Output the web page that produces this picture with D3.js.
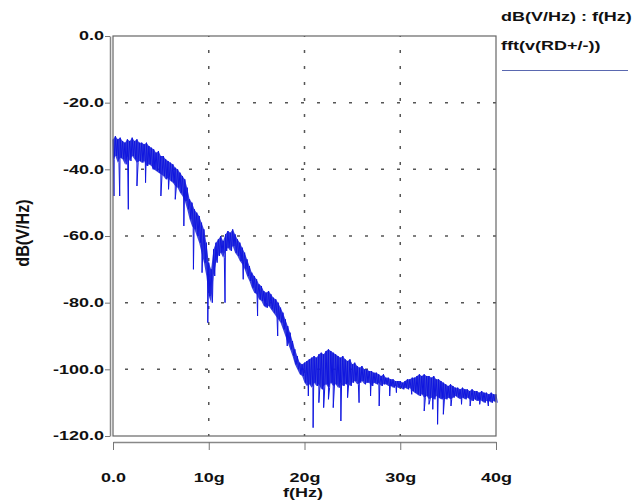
<!DOCTYPE html>
<html>
<head>
<meta charset="utf-8">
<script src="https://cdn.jsdelivr.net/npm/d3@7"></script>
<style>
  body { margin: 0; background: #fff; }
  text { font-family: "Liberation Sans", Arial, sans-serif; font-weight: bold; fill: #111; }
</style>
</head>
<body>
<script>
// spectrum, one bin every 0.25 GHz (0 .. 40g)
var binStep = 0.25;

// top of the noise band in each bin (dB)
var bandTop = [
  -31, -30, -31, -30.5, -31.5, -32, -31, -31.5, -30.5, -31.5, -31, -32,
  -32, -32.5, -32, -33, -33.5, -34, -35, -34.5, -36, -36, -37, -37.5,
  -38, -38.5, -39.5, -40, -41, -42, -43, -45.5,
  -49, -50, -52, -53, -54, -56, -58, -62, -68, -70, -64, -62,
  -61, -60, -61.5, -59.5, -58.5, -59, -58, -59.5, -61, -62, -63.5, -65,
  -67, -69, -71, -72, -73, -74.5, -75, -76.5, -77, -76.5, -77.5, -78.5,
  -79, -80, -81.5, -83, -85, -87, -89, -91.5, -94, -96, -98, -98.5,
  -98, -97.5, -97, -96.5, -96, -96.5, -95.5, -95, -95.5, -94.5, -94, -94.5,
  -95, -95.5, -96, -96.5, -96, -97, -97.5, -97, -98.5, -98, -99, -99.5,
  -99, -100, -100, -100.5, -100.5, -101, -101, -101.5, -102, -101.5, -102.5, -102.5,
  -103, -103, -103.5, -103.5,
  -103.5, -104, -103.5, -103, -103, -102.5, -102.5, -102, -101.5, -102, -101.5, -102,
  -102, -102.5, -102, -103, -103, -103.5, -104, -104.5, -105, -104.5, -105, -105.5,
  -105.5, -106, -105.5, -106, -106, -106.5, -106, -106.5, -106.5, -107, -106.5, -107,
  -107, -107.5, -107, -107.5, -107.5
];

// bottom of the noise band in each bin (dB)
var bandBottom = [
  -37, -36, -38, -36.5, -37, -38.5, -36, -37.5, -36, -37, -38, -37.5,
  -38, -37.5, -39, -38.5, -39, -40, -40.5, -41, -41.5, -42, -43, -42.5,
  -43.5, -44, -45, -45.5, -47, -48, -49.5, -52,
  -55, -57, -58, -60, -62, -65, -68, -72, -78, -80, -72, -68,
  -66, -65, -66.5, -64.5, -63.5, -64.5, -63, -65, -66, -67.5, -68.5, -70,
  -72, -73.5, -75.5, -77, -77.5, -79, -79.5, -81, -81.5, -81, -82, -83,
  -84, -85, -86, -88, -90, -92, -94, -96, -98.5, -100, -101.5, -102,
  -104, -105, -104.5, -105.5, -104, -105, -104.5, -106, -105, -104.5, -105.5, -104,
  -105, -104.5, -105.5, -104, -105, -104.5, -104, -105, -104, -103.5, -104.5, -104,
  -103.5, -104.5, -104, -104, -105, -104, -104.5, -104, -105, -104.5, -104.5, -105,
  -105, -105.5, -105, -105.5,
  -105.5, -106, -105.5, -106, -105.5, -106.5, -107, -107.5, -108, -107.5, -108.5, -108,
  -109, -108.5, -109, -108, -108.5, -109, -108.5, -109, -108.5, -109, -108.5, -108,
  -108.5, -109, -108.5, -109, -108.5, -109, -109.5, -109, -109.5, -109, -109.5, -110,
  -109.5, -109.5, -110, -109.5, -110
];

// deep notches (GHz, dB)
var notchFreq = [0.1, 0.7, 1.6, 2.5, 3.4, 4.2, 5.0, 5.8, 6.5, 7.4,
                 8.4, 9.3, 9.9, 10.4, 11.7, 13.6, 15.1, 16.0, 17.2, 18.2,
                 19.0, 20.4, 20.9, 21.5, 22.0, 22.5, 23.0, 23.8, 24.5, 25.7,
                 26.9, 27.8, 28.9, 29.6, 31.2, 32.5, 33.0, 33.4, 33.9, 34.5,
                 35.3, 36.4, 37.3, 38.3, 39.2];
var notchDb = [-48, -48, -52, -45, -44, -40, -48, -46, -49, -57,
               -70, -71, -86, -78, -80, -73, -84, -80, -90, -93,
               -97, -108, -117.5, -110, -111.5, -109, -111.5, -115.5, -108.5, -110,
               -108, -111, -108, -107, -107.5, -112.5, -110.5, -112, -116.5, -113.5,
               -111, -110.5, -111, -110.5, -111];

var xTicks = [0, 10, 20, 30, 40];
var xTickLabels = ["0.0", "10g", "20g", "30g", "40g"];
var yTicks = [0, -20, -40, -60, -80, -100, -120];

var width = 634, height = 501;
var plot = {left: 113, right: 496, top: 36, bottom: 436};
var stretch = 1.5; // the original lettering is drawn wide

var svg = d3.select("body").append("svg")
    .attr("width", width)
    .attr("height", height);

var x = d3.scaleLinear().domain([0, 40]).range([plot.left, plot.right]);
var y = d3.scaleLinear().domain([0, -120]).range([plot.top, plot.bottom]);

// grid
svg.append("g")
    .selectAll("line")
    .data(yTicks.slice(1, -1))
    .join("line")
    .attr("x1", plot.left).attr("x2", plot.right)
    .attr("y1", d => y(d)).attr("y2", d => y(d))
    .attr("stroke", "#555").attr("stroke-width", 1.5)
    .attr("stroke-dasharray", "3,13").attr("stroke-dashoffset", -12);

svg.append("g")
    .selectAll("line")
    .data(xTicks.slice(1, -1))
    .join("line")
    .attr("x1", d => x(d)).attr("x2", d => x(d))
    .attr("y1", plot.top).attr("y2", plot.bottom)
    .attr("stroke", "#555").attr("stroke-width", 1.5)
    .attr("stroke-dasharray", "3,13").attr("stroke-dashoffset", -14);

// the dense part of the noise band
var bins = bandTop.map((v, i) => ({f: i * binStep, top: v, bottom: bandBottom[i]}));

svg.append("path")
    .datum(bins)
    .attr("d", d3.area()
        .x(d => x(d.f))
        .y0(d => y(d.bottom))
        .y1(d => y(d.top)))
    .attr("fill", "#1a24d6")
    .attr("fill-opacity", 0.85);

// the trace: band top, band bottom and the notches in order of frequency
var pts = [];
bins.forEach(function(d) {
    pts.push({f: d.f, db: d.top});
    pts.push({f: d.f + binStep / 2, db: d.bottom});
});
notchFreq.forEach(function(f, i) {
    pts.push({f: f, db: notchDb[i]});
});
pts.sort((a, b) => a.f - b.f);

svg.append("path")
    .datum(pts)
    .attr("d", d3.line().x(d => x(d.f)).y(d => y(d.db)))
    .attr("fill", "none")
    .attr("stroke", "#1016e0")
    .attr("stroke-width", 1)
    .attr("stroke-linejoin", "round");

// plot frame
svg.append("rect")
    .attr("x", plot.left).attr("y", plot.top)
    .attr("width", plot.right - plot.left)
    .attr("height", plot.bottom - plot.top)
    .attr("fill", "none")
    .attr("stroke", "#666")
    .attr("stroke-width", 1.2);

// y axis, set a little left of the frame
var yAxis = svg.append("g")
    .attr("transform", "translate(110,0)")
    .call(d3.axisLeft(y).tickValues(yTicks).tickSize(5).tickSizeOuter(0)
        .tickFormat(d => d.toFixed(1)));
yAxis.select(".domain").attr("stroke", "#888").attr("stroke-width", 1.5);
yAxis.selectAll(".tick line").attr("stroke", "#777");
yAxis.selectAll("text")
    .attr("x", -6 / stretch)
    .attr("transform", "scale(" + stretch + ",1)")
    .style("font-size", "12px");

// x axis, set a little below the frame
var xAxis = svg.append("g")
    .attr("transform", "translate(0,442)")
    .call(d3.axisBottom(x).tickValues(xTicks).tickSize(8).tickSizeOuter(0).tickPadding(23)
        .tickFormat((d, i) => xTickLabels[i]));
xAxis.select(".domain").attr("stroke", "#888").attr("stroke-width", 1.5);
xAxis.selectAll(".tick line").attr("stroke", "#777");
xAxis.selectAll("text")
    .attr("transform", "scale(" + stretch + ",1)")
    .style("font-size", "12px");

// axis titles
svg.append("text")
    .attr("transform", "translate(303,497) scale(" + stretch + ",1)")
    .attr("text-anchor", "middle")
    .style("font-size", "12px")
    .text("f(Hz)");

svg.append("text")
    .attr("transform", "translate(29,233) rotate(-90) scale(1.35," + stretch + ")")
    .attr("text-anchor", "middle")
    .style("font-size", "12px")
    .text("dB(V/Hz)");

// legend
svg.append("text")
    .attr("transform", "translate(501,21) scale(" + stretch + ",1)")
    .style("font-size", "12px")
    .text("dB(V/Hz) : f(Hz)");

svg.append("text")
    .attr("transform", "translate(501,50) scale(" + stretch + ",1)")
    .style("font-size", "12px")
    .text("fft(v(RD+/-))");

svg.append("line")
    .attr("x1", 502).attr("x2", 628)
    .attr("y1", 70.5).attr("y2", 70.5)
    .attr("stroke", "#5a68b0")
    .attr("stroke-width", 1.2);
</script>
</body>
</html>
